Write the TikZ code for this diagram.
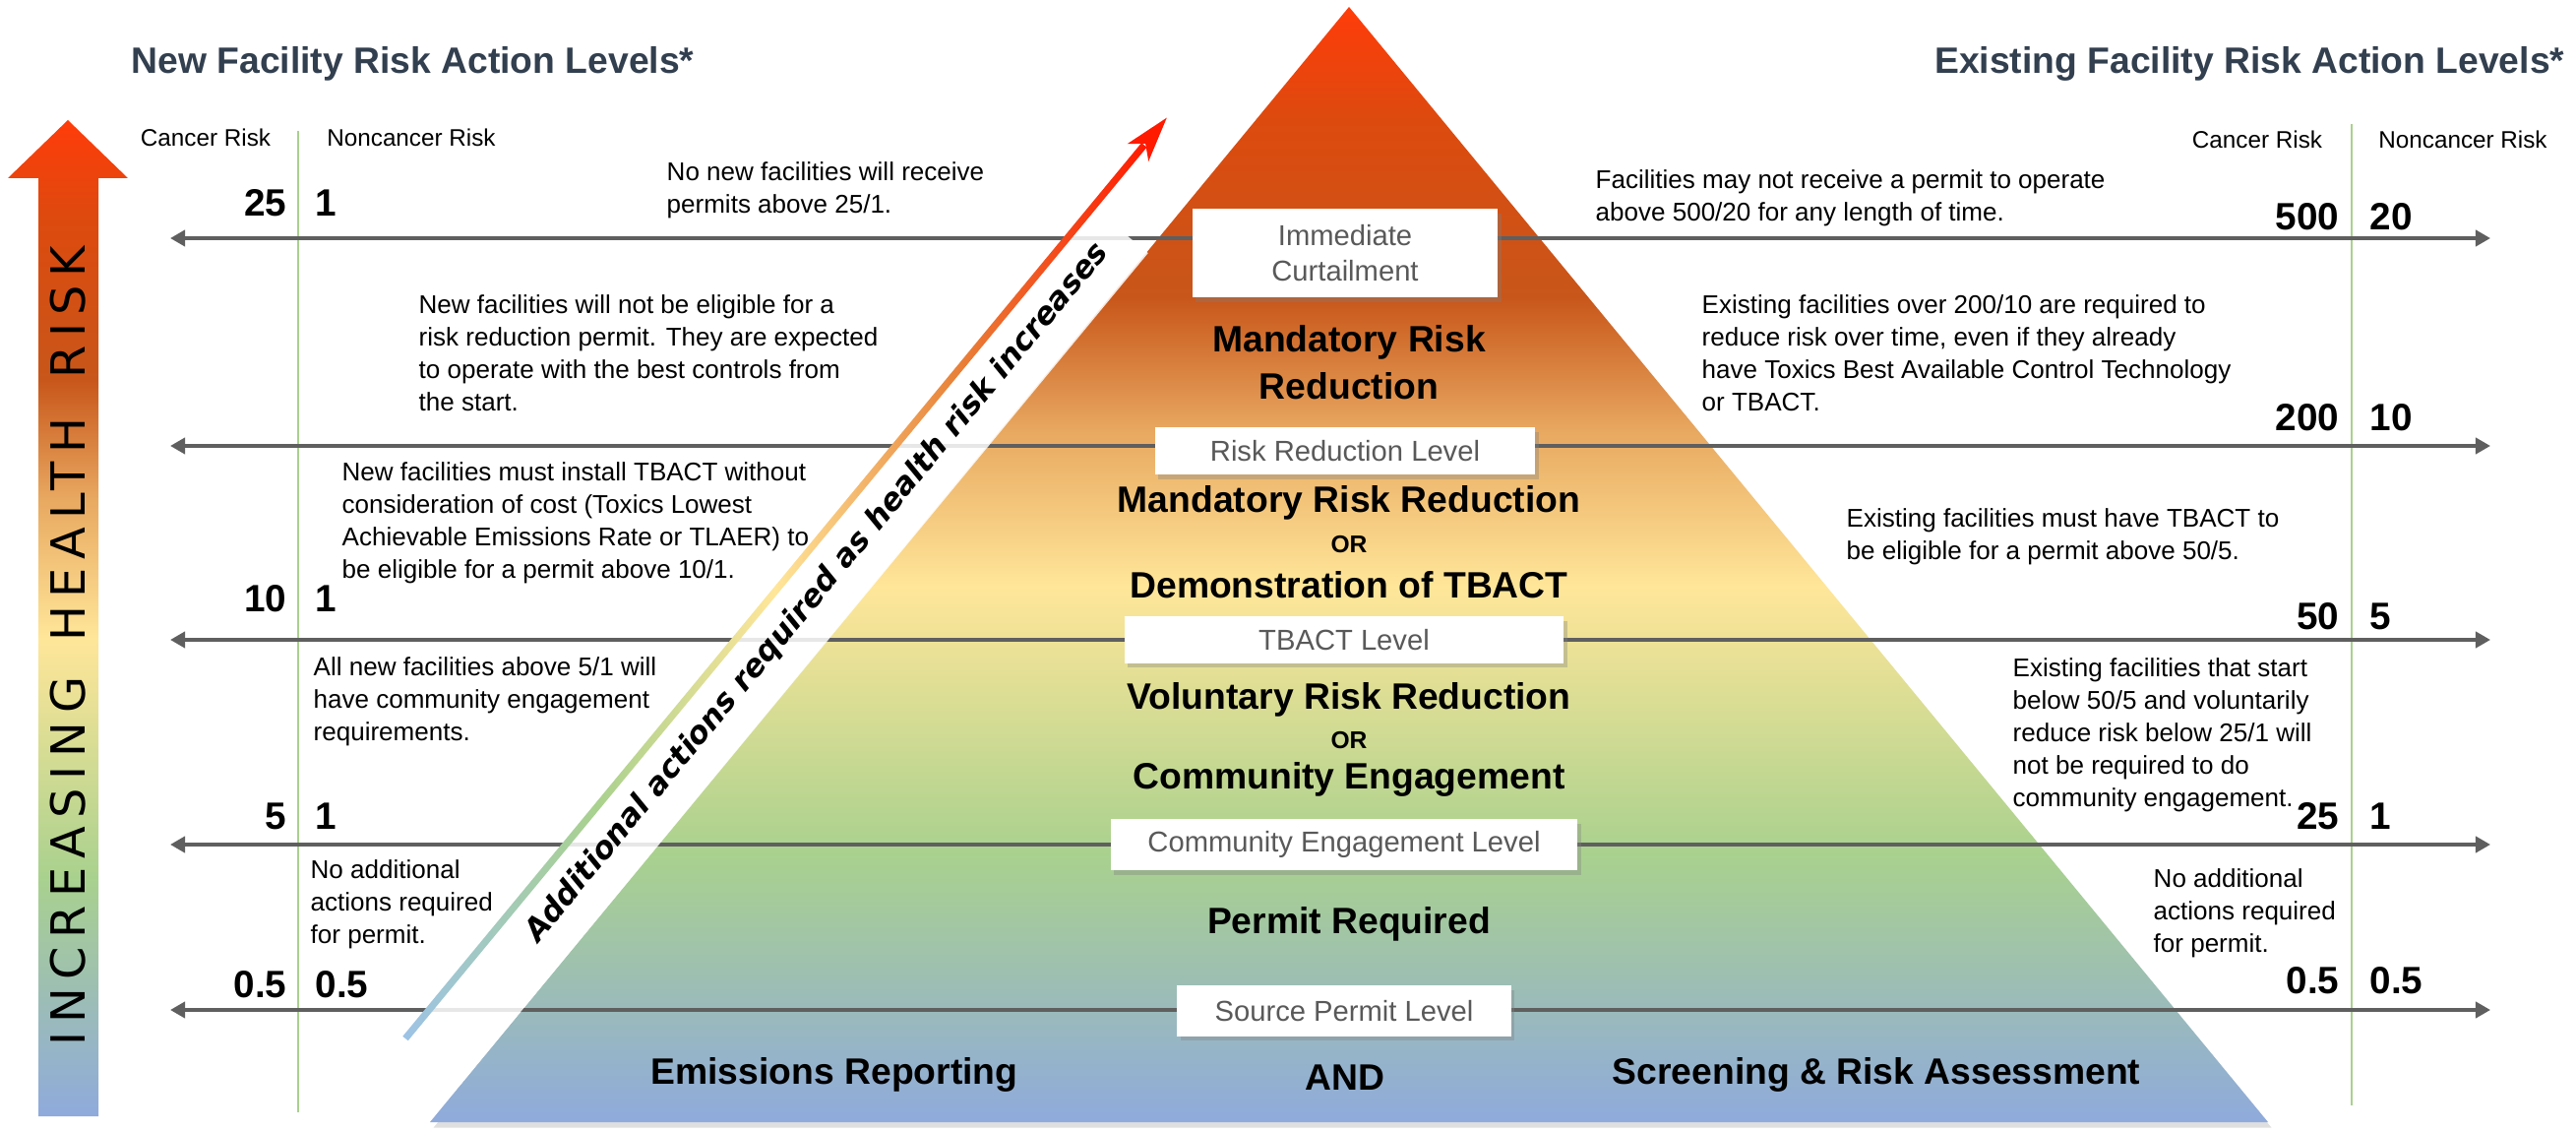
\documentclass[tikz,border=0pt]{standalone}
\usepackage{fontspec}
\setmainfont{Liberation Sans}
\newfontfamily\gothfont{DejaVu Sans}[LetterSpace=18]
\newfontfamily\obliquefont{DejaVu Sans}
\usepackage{xcolor}
\usetikzlibrary{arrows.meta,shadows}

\definecolor{titlecol}{HTML}{323F4F}
\definecolor{linegray}{HTML}{5F5F5F}
\definecolor{boxgray}{HTML}{595959}
\definecolor{colgreen}{HTML}{A9D18E}
\definecolor{rred}{HTML}{FF3C0A}
\definecolor{rdeep}{HTML}{DD4A0E}
\definecolor{rorange}{HTML}{C8561A}
\definecolor{rlight}{HTML}{E8A860}
\definecolor{ryellow}{HTML}{FFE699}
\definecolor{rgreen}{HTML}{A9D18E}
\definecolor{rblue}{HTML}{8FAADC}
\definecolor{ablue}{HTML}{9DC3E6}
\definecolor{aorange}{HTML}{E8833A}
\definecolor{ared}{HTML}{FF1A00}

% colour ramp of the pyramid and of the side arrow
\pgfdeclareverticalshading{riskshade}{100bp}{color(0bp)=(rblue); color(25bp)=(rblue);
  color(37bp)=(rgreen); color(49bp)=(ryellow); color(56bp)=(rlight);
  color(62bp)=(rorange); color(70bp)=(rdeep); color(75bp)=(rred); color(100bp)=(rred)}
% colour ramp of the diagonal arrow
\pgfdeclarehorizontalshading{actshade}{100bp}{color(0bp)=(ablue); color(25bp)=(ablue);
  color(38bp)=(rgreen); color(50bp)=(ryellow); color(62bp)=(aorange);
  color(75bp)=(ared); color(100bp)=(ared)}

\begin{document}
\begin{tikzpicture}[x=0.01cm,y=-0.01cm,
  levelline/.style={draw=linegray,line width=1.4pt,
    {Triangle[length=4.3pt,width=4.6pt]}-{Triangle[length=4.3pt,width=4.6pt]}},
  colline/.style={draw=colgreen,line width=0.5pt},
  levelbox/.style={fill=white,text=boxgray,inner sep=0pt,align=center,
    font=\fontsize{8.3pt}{10.2pt}\selectfont,
    drop shadow={shadow xshift=1pt,shadow yshift=-1.4pt,opacity=.35}},
  tierlabel/.style={font=\fontsize{10.6pt}{13.7pt}\selectfont\bfseries,inner sep=0pt,align=center},
  orlabel/.style={font=\fontsize{7pt}{8pt}\selectfont\bfseries,inner sep=0pt},
  desc/.style={font=\fontsize{7.4pt}{9.4pt}\selectfont,inner sep=0pt,align=left,anchor=north west},
  num/.style={font=\fontsize{11pt}{13pt}\selectfont\bfseries,inner sep=0pt},
  colhead/.style={font=\fontsize{6.9pt}{8pt}\selectfont,inner sep=0pt},
  sidetitle/.style={font=\fontsize{10.6pt}{13pt}\selectfont\bfseries,text=titlecol,inner sep=0pt}]
\useasboundingbox (0,0) rectangle (2618,1149);

% pyramid
\coordinate (apex) at (1371,7);
\coordinate (baseL) at (437,1140);
\coordinate (baseR) at (2305,1140);
\shade[shading=riskshade,drop shadow={shadow xshift=1pt,shadow yshift=-1.6pt,opacity=.25}]
  (apex) -- (baseR) -- (baseL) -- cycle;

% increasing health risk arrow
\shade[shading=riskshade] (39,1134) -- (39,181) -- (8,181) -- (69,122) -- (130,181)
  -- (100,181) -- (100,1134) -- cycle;
\node[rotate=90,font=\gothfont\fontsize{13.6pt}{15pt}\selectfont,inner sep=0pt] (hrisk)
  at (69,656) {INCREASING\hspace*{0.36cm}HEALTH\hspace*{0.40cm}RISK};

% column rules
\coordinate (colLt) at (303,133);  \coordinate (colLb) at (303,1130);
\coordinate (colRt) at (2390,126); \coordinate (colRb) at (2390,1123);
\draw[colline] (colLt) -- (colLb);
\draw[colline] (colRt) -- (colRb);

% risk level lines
\foreach \lv/\yy in {curt/242,rred/453,tbact/650,comm/858,src/1026}{
  \coordinate (\lv W) at (173,\yy);
  \coordinate (\lv E) at (2531,\yy);
  \draw[levelline] (\lv W) -- (\lv E);
}

% band with the diagonal arrow
\begin{scope}[shift={(412,1055)},rotate=50.4]
  \fill[white,opacity=.85] (0,0) rectangle (1096,73);
  \shade[shading=actshade] (0,-3.5) rectangle (1178,3.5);
  \fill[ared] (1214,0) -- (1168,-14) -- (1180,0) -- (1168,14) -- cycle;
  \node[rotate=50.4,inner sep=0pt,font=\obliquefont\fontsize{8.9pt}{10pt}\selectfont\bfseries\itshape]
    (acttxt) at (616,34) {Additional actions required as health risk increases};
\end{scope}

% level boxes
\node[levelbox,minimum width=3.10cm,minimum height=0.90cm] (curtbox) at (1367,257) {Immediate\\Curtailment};
\node[levelbox,minimum width=3.86cm,minimum height=0.48cm] (rrbox) at (1367,458) {Risk Reduction Level};
\node[levelbox,minimum width=4.46cm,minimum height=0.47cm] (tbbox) at (1366,650) {TBACT Level};
\node[levelbox,minimum width=4.74cm,minimum height=0.52cm] (cebox) at (1366,858) {Community Engagement Level};
\node[levelbox,minimum width=3.39cm,minimum height=0.51cm] (spbox) at (1366,1027) {Source Permit Level};

% tiers
\node[tierlabel] (tier1) at (1371,368) {Mandatory Risk\\Reduction};
\node[tierlabel] (tier2a) at (1371,511) {Mandatory Risk Reduction};
\node[orlabel] (tier2b) at (1371,553) {OR};
\node[tierlabel] (tier2c) at (1371,594) {Demonstration of TBACT};
\node[tierlabel] (tier3a) at (1371,711) {Voluntary Risk Reduction};
\node[orlabel] (tier3b) at (1371,752) {OR};
\node[tierlabel] (tier3c) at (1371,792) {Community Engagement};
\node[tierlabel] (tier4) at (1371,939) {Permit Required};
\node[tierlabel] (baseA) at (848,1092) {Emissions Reporting};
\node[tierlabel] (baseB) at (1367,1095) {AND};
\node[tierlabel] (baseC) at (1907,1092) {Screening \& Risk Assessment};

% titles and column heads
\node[sidetitle,anchor=base west] (newtitle) at (133,75) {New Facility Risk Action Levels*};
\node[sidetitle,anchor=base east] (oldtitle) at (2607,75) {Existing Facility Risk Action Levels*};
\node[colhead] (cancL) at (209,140) {Cancer Risk};
\node[colhead] (noncL) at (418,140) {Noncancer Risk};
\node[colhead] (cancR) at (2294,142) {Cancer Risk};
\node[colhead] (noncR) at (2503,142) {Noncancer Risk};

% new facility values
\foreach \nm/\yy/\ca/\nc in {nA/220/25/1,nB/621/10/1,nC/842/5/1,nD/1013/0.5/0.5}{
  \node[num,anchor=base east] (\nm c) at (292,\yy) {\ca};
  \node[num,anchor=base west] (\nm n) at (320,\yy) {\nc};
}
% existing facility values
\foreach \nm/\yy/\ca/\nc in {eA/234/500/20,eB/438/200/10,eC/639/50/5,eD/842/25/1,eE/1009/0.5/0.5}{
  \node[num,anchor=base east] (\nm c) at (2378,\yy) {\ca};
  \node[num,anchor=base west] (\nm n) at (2408,\yy) {\nc};
}

% notes, new facilities
\node[desc] (noteL1) at (677,164) {No new facilities will receive\\permits above 25/1.};
\node[desc] (noteL2) at (425,299) {New facilities will not be eligible for a\\risk reduction permit. They are expected\\to operate with the best controls from\\the start.};
\node[desc] (noteL3) at (347,469) {New facilities must install TBACT without\\consideration of cost (Toxics Lowest\\Achievable Emissions Rate or TLAER) to\\be eligible for a permit above 10/1.};
\node[desc] (noteL4) at (318,667) {All new facilities above 5/1 will\\have community engagement\\requirements.};
\node[desc] (noteL5) at (315,873) {No additional\\actions required\\for permit.};
% notes, existing facilities
\node[desc] (noteR1) at (1621,172) {Facilities may not receive a permit to operate\\above 500/20 for any length of time.};
\node[desc] (noteR2) at (1729,299) {Existing facilities over 200/10 are required to\\reduce risk over time, even if they already\\have Toxics Best Available Control Technology\\or TBACT.};
\node[desc] (noteR3) at (1876,516) {Existing facilities must have TBACT to\\be eligible for a permit above 50/5.};
\node[desc] (noteR4) at (2045,668) {Existing facilities that start\\below 50/5 and voluntarily\\reduce risk below 25/1 will\\not be required to do\\community engagement.};
\node[desc] (noteR5) at (2188,882) {No additional\\actions required\\for permit.};
\end{tikzpicture}
\end{document}
